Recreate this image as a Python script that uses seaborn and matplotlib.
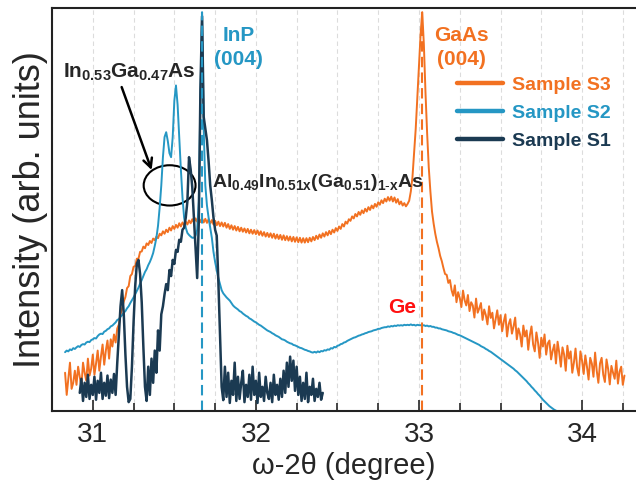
import numpy as np
import pandas as pd
import matplotlib
matplotlib.use("Agg")
import matplotlib.pyplot as plt
from matplotlib.patches import Ellipse
from matplotlib.ticker import MultipleLocator
import seaborn as sns

# --- data (step 0.01 deg, intensity in arb. units) ---
s3_start = 30.83  # Sample S3 (orange)
s3_intensity = [
    95, 40, 80, 120, 55, 70, 100,
    65, 110, 85, 60, 120, 95, 75, 130, 88, 105,
    140, 90, 118, 150, 100, 135, 165, 115, 150, 175,
    130, 178, 160, 190, 170, 205, 215, 240, 255, 272,
    283, 305, 310, 335, 340, 358, 360, 378, 378, 395,
    396, 408, 404, 416, 412, 422, 417, 428, 424, 433,
    429, 440, 436, 446, 440, 450, 444, 455, 448, 459,
    452, 462, 455, 466, 458, 468, 461, 470, 463, 473,
    466, 476, 468, 478, 470, 479, 469, 478, 468, 477,
    467, 476, 465, 474, 463, 472, 461, 470, 459, 468,
    458, 467, 455, 464, 452, 461, 450, 459, 448, 457,
    446, 455, 445, 453, 443, 452, 441, 450, 440, 449,
    439, 448, 437, 446, 435, 444, 433, 442, 432, 441,
    430, 440, 428, 438, 427, 437, 425, 436, 424, 434,
    423, 433, 421, 432, 420, 431, 419, 430, 418, 429,
    418, 429, 419, 430, 421, 432, 424, 435, 427, 438,
    430, 441, 433, 444, 436, 447, 439, 450, 443, 454,
    447, 458, 452, 464, 458, 470, 465, 476, 472, 483,
    478, 489, 483, 494, 487, 498, 491, 502, 495, 506,
    499, 510, 503, 514, 507, 518, 512, 523, 516, 527,
    520, 531, 522, 532, 520, 530, 517, 526, 513, 520,
    510, 516, 508, 514, 522, 545, 580, 640, 700, 780,
    860, 935, 990, 910, 790, 690, 605, 545, 495, 465,
    440, 420, 404, 385, 372, 355, 340, 338, 318, 325,
    300, 286, 312, 270, 295, 281, 258, 299, 275, 262,
    288, 248, 270, 262, 232, 279, 244, 255, 268, 226,
    252, 238, 215, 260, 231, 244, 205, 228, 250, 214,
    238, 198, 222, 240, 185, 215, 228, 192, 210, 232,
    178, 205, 190, 160, 212, 185, 200, 152, 188, 210,
    165, 148, 195, 170, 132, 182, 160, 190, 140, 168,
    175, 128, 150, 165, 118, 172, 145, 110, 158, 140,
    100, 162, 130, 148, 95, 120, 155, 108, 88, 148,
    125, 92, 138, 110, 78, 132, 118, 85, 145, 100,
    70, 118, 132, 90, 72, 128, 104, 66, 112, 95,
    80, 125, 68, 98, 110, 65, 88,
]

s2_start = 30.83  # Sample S2 (cyan)
s2_intensity = [
    146, 150, 148, 153, 151, 156, 154,
    158, 161, 159, 164, 166, 165, 170, 172, 171, 176,
    178, 181, 180, 186, 190, 192, 191, 197, 199, 203,
    205, 210, 212, 216, 220, 226, 228, 234, 238, 244,
    248, 255, 260, 268, 275, 282, 290, 298, 306, 316,
    325, 335, 345, 352, 362, 370, 380, 392, 410, 430,
    460, 505, 560, 630, 680, 692, 670, 640, 630, 680,
    770, 808, 760, 680, 600, 530, 480, 455, 442, 437,
    433, 430, 430, 435, 450, 520, 780, 990, 700, 560,
    510, 480, 455, 430, 395, 370, 350, 330, 315, 300,
    292, 287, 282, 278, 274, 268, 262, 258, 255, 252,
    248, 246, 242, 239, 236, 234, 230, 228, 225, 222,
    220, 217, 214, 212, 209, 206, 203, 200, 198, 196,
    193, 191, 188, 186, 184, 181, 178, 177, 175, 172,
    170, 168, 167, 164, 163, 161, 159, 157, 156, 154,
    152, 151, 149, 148, 146, 145, 147, 145, 148, 146,
    149, 148, 151, 150, 153, 152, 156, 155, 159, 158,
    162, 163, 166, 167, 170, 171, 174, 176, 178, 180,
    182, 183, 185, 187, 188, 190, 191, 193, 194, 196,
    197, 198, 200, 201, 202, 204, 204, 206, 207, 208,
    208, 210, 209, 211, 210, 212, 211, 213, 212, 213,
    212, 214, 213, 214, 213, 215, 213, 214, 212, 214,
    213, 213, 212, 213, 211, 212, 210, 211, 209, 209,
    207, 207, 205, 205, 203, 202, 201, 200, 198, 197,
    196, 194, 193, 191, 189, 188, 186, 184, 182, 180,
    178, 176, 174, 172, 170, 168, 166, 164, 161, 159,
    157, 154, 152, 149, 147, 144, 141, 138, 135, 132,
    129, 126, 123, 120, 117, 114, 111, 108, 105, 101,
    98, 94, 90, 86, 82, 78, 74, 69, 65, 60,
    56, 51, 47, 42, 38, 33, 28, 24, 20, 16,
    12, 9, 6, 3, 1, -2, -5, -8, -10,
]

s1_start = 30.92  # Sample S1 (navy)
s1_intensity = [
    45, 80, 25, 70, 35, 90, 30, 65,
    40, 85, 28, 75, 45, 95, 30, 70, 38, 88,
    32, 78, 45, 92, 40, 120, 190, 260, 300, 240,
    140, 60, 22, 30, 110, 220, 310, 365, 375, 340,
    270, 160, 60, 25, 110, 40, 130, 70, 150, 95,
    200, 150, 240, 260, 290, 315, 300, 350, 335, 375,
    365, 400, 395, 425, 420, 450, 455, 480, 520, 630,
    600, 555, 480, 400, 330, 470, 800, 980, 730, 700,
    672, 620, 560, 523, 480, 450, 435, 320, 193, 60,
    27, 110, 35, 95, 20, 75, 40, 120, 25, 85,
    30, 70, 100, 22, 65, 35, 90, 28, 110, 40,
    75, 20, 95, 35, 60, 25, 85, 45, 30, 70,
    22, 90, 40, 65, 28, 80, 35, 100, 45, 120,
    60, 135, 75, 125, 50, 110, 40, 85, 25, 70,
    30, 95, 22, 60, 40, 80, 25, 55, 35, 70,
    28, 45,
]

step = 0.01
peak_inp = 31.667
peak_gaas = 33.02

c_s3 = "#f27121"
c_s2 = "#2597c4"
c_s1 = "#1b3a52"

def scan(start, values, name):
    two_theta = start + step * np.arange(len(values))
    return pd.DataFrame({"angle": two_theta, "intensity": values, "sample": name})

df = pd.concat([
    scan(s3_start, s3_intensity, "Sample S3"),
    scan(s2_start, s2_intensity, "Sample S2"),
    scan(s1_start, s1_intensity, "Sample S1"),
], ignore_index=True)

sns.set_style("ticks")
plt.rcParams["font.family"] = ["Liberation Sans", "DejaVu Sans"]
plt.rcParams["mathtext.fontset"] = "custom"
plt.rcParams["mathtext.rm"] = "Liberation Sans"
plt.rcParams["mathtext.bf"] = "Liberation Sans:bold"

fig = plt.figure(figsize=(6.36, 4.86), dpi=100)
ax = fig.add_axes([0.0818, 0.1543, 0.918, 0.829])

sns.lineplot(data=df, x="angle", y="intensity", hue="sample",
             hue_order=["Sample S3", "Sample S2", "Sample S1"],
             palette=[c_s3, c_s2, c_s1], estimator=None, sort=False,
             linewidth=1.4, ax=ax, legend=False)
for ln, w in zip(ax.get_lines(), [1.4, 1.4, 1.8]):
    ln.set_linewidth(w)

ax.vlines(peak_inp, 0, 990, colors=c_s2, linestyles=(0, (5, 2.5)), lw=1.5)
ax.vlines(peak_gaas, 0, 990, colors=c_s3, linestyles=(0, (5, 2.5)), lw=1.5)

ax.set_xlim(30.75, 34.33)
ax.set_ylim(0, 1000)
ax.xaxis.set_major_locator(MultipleLocator(1))
ax.xaxis.set_minor_locator(MultipleLocator(0.25))
ax.set_yticks([])
ax.grid(which="both", axis="x", color="#dcdcdc", lw=0.8, ls=(0, (4, 3)))
ax.set_axisbelow(True)
ax.tick_params(axis="x", which="major", direction="in", length=8, width=1.2,
               labelsize=20, pad=8)
ax.tick_params(axis="x", which="minor", direction="in", length=5.5, width=1.2)
for side in ["left", "bottom", "top"]:
    ax.spines[side].set_linewidth(1.5)
    ax.spines[side].set_color("#222222")
ax.spines["right"].set_visible(False)

ax.set_xlabel("ω-2θ (degree)", fontsize=21, labelpad=3)
ax.set_ylabel("Intensity (arb. units)", fontsize=26, labelpad=3)

# legend
handles = [plt.Line2D([], [], color=c, lw=3.2) for c in (c_s3, c_s2, c_s1)]
leg = ax.legend(handles, ["Sample S3", "Sample S2", "Sample S1"],
                loc="upper left", bbox_to_anchor=(0.693, 0.83), frameon=False,
                borderpad=0, borderaxespad=0, handlelength=2.4,
                handletextpad=0.45, labelspacing=0.53,
                prop={"weight": "bold", "size": 14},
                labelcolor=[c_s3, c_s2, c_s1])

# annotations
ax.text(31.893, 902, "InP\n(004)", color=c_s2, fontsize=15, fontweight="bold",
        ha="center", va="center", linespacing=1.35)
ax.text(33.263, 902, "GaAs\n(004)", color=c_s3, fontsize=15, fontweight="bold",
        ha="center", va="center", linespacing=1.35)
ax.text(32.896, 258, "Ge", color="#ff1010", fontsize=15, fontweight="bold",
        ha="center", va="center")
ax.text(30.816, 828, r"$\mathbf{In_{0.53}Ga_{0.47}As}$", fontsize=15,
        ha="left", va="baseline")
ax.text(31.728, 556, r"$\mathbf{Al_{0.49}In_{0.51x}(Ga_{0.51})_{1\text{-}x}As}$",
        fontsize=14, ha="left", va="baseline")

ax.add_patch(Ellipse((31.471, 560), 0.318, 100, fill=False, lw=1.5, color="black"))
ax.annotate("", xy=(31.361, 598), xytext=(31.177, 804),
            arrowprops=dict(arrowstyle="->", lw=1.8, color="black",
                            mutation_scale=16, shrinkA=0, shrinkB=0))

fig.savefig("out.png", dpi=100)
